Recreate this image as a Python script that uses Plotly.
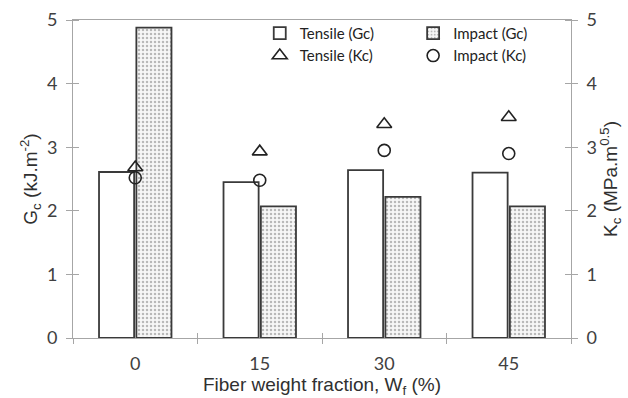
import plotly.graph_objects as go

categories = ["0", "15", "30", "45"]
tensile_gc = [2.61, 2.45, 2.64, 2.60]
impact_gc = [4.88, 2.07, 2.22, 2.07]
tensile_kc = [2.68, 2.93, 3.36, 3.47]
impact_kc = [2.52, 2.48, 2.95, 2.90]
y_ticks = [0, 1, 2, 3, 4, 5]

xpos = list(range(len(categories)))
bounds = [i - 0.5 for i in range(len(categories) + 1)]

axis_col = "#a6a6a6"
edge_col = "#3a3a3a"
txt_col = "#404040"
tick_font = dict(family="Lato, Open Sans, sans-serif", size=18, color=txt_col)
title_font = dict(family="Liberation Sans, Arial, sans-serif", size=19, color="#303030")
leg_font = dict(family="Lato, Open Sans, sans-serif", size=15, color="#222222")

fig = go.Figure()
fig.add_trace(go.Bar(
    x=xpos, y=tensile_gc, name="Tensile (Gc)", legend="legend",
    marker=dict(color="white", line=dict(color=edge_col, width=1.8)),
))
fig.add_trace(go.Bar(
    x=xpos, y=impact_gc, name="Impact (Gc)", legend="legend2",
    marker=dict(color="white", line=dict(color=edge_col, width=1.8),
                pattern=dict(shape=".", size=4, solidity=0.3, fgcolor="#7a7a7a", bgcolor="#f7f7f7")),
))
fig.add_trace(go.Scatter(
    x=xpos, y=tensile_kc, name="Tensile (Kc)", mode="markers", yaxis="y2", legend="legend",
    marker=dict(symbol="triangle-up-open", size=13, color="#222222", line=dict(width=1.6)),
))
fig.add_trace(go.Scatter(
    x=xpos, y=impact_kc, name="Impact (Kc)", mode="markers", yaxis="y2", legend="legend2",
    marker=dict(symbol="circle-open", size=12, color="#222222", line=dict(width=1.6)),
))
# helper trace to carry inner halves of category boundary ticks
fig.add_trace(go.Scatter(x=[None], y=[None], xaxis="x2", showlegend=False, hoverinfo="skip"))

yax_common = dict(
    range=[0, 5], tickvals=y_ticks, ticks="outside", ticklen=6, tickcolor=axis_col, tickwidth=1,
    minor=dict(tickvals=y_ticks, ticks="inside", ticklen=6, tickcolor=axis_col, tickwidth=1),
    showline=True, linecolor=axis_col, linewidth=1, showgrid=False, zeroline=False,
    tickfont=tick_font, ticklabelstandoff=5, automargin=False,
)

fig.update_layout(
    width=628, height=398,
    margin=dict(l=73, r=57, t=20, b=60),
    paper_bgcolor="white", plot_bgcolor="white",
    barmode="group", bargap=0.4, bargroupgap=0.06,
    xaxis=dict(
        range=[-0.5, 3.5], tickvals=xpos, ticktext=categories, ticks="",
        minor=dict(tickvals=bounds, ticks="outside", ticklen=5, tickcolor=axis_col, tickwidth=1),
        showline=True, linecolor=axis_col, linewidth=1, mirror=True, automargin=False,
        showgrid=False, zeroline=False, tickfont=tick_font, ticklabelstandoff=9,
        title=dict(text="Fiber weight fraction, W<sub>f</sub> (%)", font=title_font, standoff=10),
    ),
    xaxis2=dict(
        overlaying="x", anchor="y", side="bottom", range=[-0.5, 3.5],
        tickvals=bounds, ticks="inside", ticklen=5, tickcolor=axis_col, tickwidth=1,
        showticklabels=False, showline=False, showgrid=False, zeroline=False,
    ),
    yaxis=dict(**yax_common,
               title=dict(text="G<sub>c</sub> (kJ.m<sup>-2</sup>)", font=title_font, standoff=4)),
    yaxis2=dict(**yax_common, overlaying="y", side="right",
                title=dict(text="K<sub>c</sub> (MPa.m<sup>0.5</sup>)", font=title_font, standoff=4)),
    legend=dict(x=0.375, y=1.01, xanchor="left", yanchor="top", bgcolor="rgba(0,0,0,0)",
                font=leg_font, tracegroupgap=0, itemwidth=30),
    legend2=dict(x=0.683, y=1.01, xanchor="left", yanchor="top", bgcolor="rgba(0,0,0,0)",
                 font=leg_font, tracegroupgap=0, itemwidth=30),
)

fig.write_html("out.html")
